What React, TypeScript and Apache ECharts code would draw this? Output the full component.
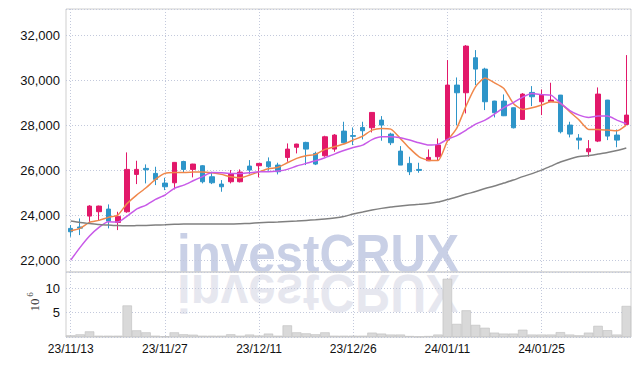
import React, { useEffect, useRef } from "react";
import * as echarts from "echarts";

const dates = [
  "23/11/13", "23/11/14", "23/11/15", "23/11/16", "23/11/17",
  "23/11/20", "23/11/21", "23/11/22", "23/11/23", "23/11/24",
  "23/11/27", "23/11/28", "23/11/29", "23/11/30", "23/12/01",
  "23/12/04", "23/12/05", "23/12/06", "23/12/07", "23/12/08",
  "23/12/11", "23/12/12", "23/12/13", "23/12/14", "23/12/15",
  "23/12/18", "23/12/19", "23/12/20", "23/12/21", "23/12/22",
  "23/12/26", "23/12/27", "23/12/28", "24/01/02", "24/01/03",
  "24/01/04", "24/01/05", "24/01/08", "24/01/09", "24/01/10",
  "24/01/11", "24/01/12", "24/01/15", "24/01/16", "24/01/17",
  "24/01/18", "24/01/19", "24/01/22", "24/01/23", "24/01/24",
  "24/01/25", "24/01/26", "24/01/29", "24/01/30", "24/01/31",
  "24/02/01", "24/02/02", "24/02/05", "24/02/06", "24/02/07",
];

const opens = [
  23408, 23470, 23955, 24150, 24267, 23675, 24147, 25808, 26075, 25852,
  25422, 25436, 26381, 26031, 26193, 25704, 25378, 25482, 25482, 26178,
  26193, 26370, 26222, 26563, 27015, 27230, 26741, 26637, 26933, 27733,
  27533, 27896, 27881, 28222, 27600, 26844, 26297, 26030, 26415, 26593,
  27333, 29778, 29437, 30993, 30489, 29067, 29067, 28770, 28252, 29452,
  29037, 29037, 29333, 28000, 27422, 26815, 27289, 29111, 27556, 28030,
];
const closes = [
  23258, 23420, 24400, 24400, 23733, 23942, 26031, 26031, 26015, 25586,
  25259, 26342, 26031, 26267, 25482, 25436, 25259, 25823, 25911, 26000,
  26297, 26148, 25926, 26933, 27156, 26933, 26267, 27481, 27556, 27215,
  27500, 27748, 28563, 28000, 27215, 26222, 25926, 25985, 26563, 27111,
  29778, 29437, 31511, 30489, 29037, 28548, 28415, 27881, 29378, 29259,
  29333, 29111, 27704, 27600, 27333, 26948, 29378, 27511, 27333, 28444,
];
const lows = [
  23036, 23110, 23700, 23780, 23408, 23333, 24103, 25378, 25408, 25333,
  25111, 25141, 25897, 25675, 25408, 25378, 25037, 25408, 25452, 25822,
  25675, 25970, 25808, 26370, 26741, 26222, 26222, 26593, 26815, 27185,
  27111, 27363, 27674, 27304, 27111, 26222, 25778, 25882, 26415, 26444,
  27259, 28000, 28519, 29778, 28667, 28341, 28400, 27852, 28252, 28844,
  28444, 29037, 27630, 27452, 26919, 26593, 27244, 27333, 27015, 28030,
];
const highs = [
  23556, 23850, 24440, 24420, 24475, 24147, 26786, 26415, 26253, 26148,
  25659, 26360, 26415, 26280, 26222, 25926, 25556, 26000, 26030, 26444,
  26310, 26563, 26326, 27185, 27170, 27259, 26815, 27526, 27600, 28148,
  27896, 28148, 28580, 28400, 27659, 27066, 26593, 26326, 26919, 27408,
  30889, 30118, 31556, 31333, 30548, 29080, 29363, 28780, 29422, 29733,
  29585, 29882, 29340, 28148, 27600, 27333, 29674, 29120, 27807, 31111,
];

const ma5 = [
  23302, 23409, 23676, 23764, 23898, 24000, 24520, 24889, 25213, 25587,
  25853, 25898, 25898, 25911, 25920, 25880, 25809, 25702, 25658, 25778,
  25924, 26058, 26120, 26324, 26520, 26636, 26698, 26920, 27036, 27156,
  27333, 27511, 27778, 27853, 27822, 27409, 26964, 26591, 26431, 26422,
  27289, 27867, 28867, 29711, 30089, 29880, 29631, 28964, 28698, 28769,
  28889, 29036, 28964, 28591, 28222, 27809, 27809, 27778, 27747, 28000,
];
const ma10 = [
  22000, 22564, 23067, 23453, 23702, 23689, 23956, 24267, 24444, 24698,
  24889, 25187, 25333, 25524, 25711, 25889, 25880, 25853, 25853, 25880,
  25924, 25924, 25956, 26031, 26178, 26298, 26413, 26547, 26711, 26867,
  27000, 27111, 27356, 27480, 27480, 27436, 27333, 27213, 27111, 27142,
  27364, 27533, 27778, 28044, 28222, 28489, 28778, 29000, 29244, 29400,
  29356, 29333, 28978, 28644, 28444, 28342, 28400, 28400, 28222, 28058,
];
const maLong = [
  23733, 23667, 23622, 23578, 23556, 23533, 23524, 23533, 23542, 23556,
  23569, 23587, 23600, 23600, 23600, 23600, 23600, 23600, 23613, 23631,
  23658, 23676, 23689, 23711, 23733, 23764, 23791, 23822, 23867, 23933,
  24044, 24133, 24222, 24298, 24356, 24400, 24444, 24476, 24511, 24578,
  24689, 24800, 24933, 25044, 25178, 25289, 25422, 25556, 25711, 25844,
  26000, 26178, 26356, 26489, 26600, 26644, 26711, 26778, 26867, 26978,
];
const volumes = [
  0.35, 0.55, 1.16, 0.27, 0.27, 0.27, 6.5, 1.37, 0.96, 0.27,
  0.14, 0.96, 0.55, 0.48, 0.27, 0.27, 0.27, 0.55, 0.27, 0.5,
  0.3, 0.7, 0.27, 2.4, 0.96, 0.75, 0.55, 0.96, 0.27, 0.27,
  0.27, 0.27, 0.9, 0.7, 0.5, 0.5, 0.2, 0.07, 0.2, 0.5,
  12.0, 2.7, 5.5, 2.5, 1.9, 0.9, 0.7, 0.7, 1.5, 0.5,
  0.5, 0.5, 1.0, 0.5, 0.35, 0.9, 2.3, 1.4, 0.5, 6.4,
];

const UP = "#e2186a";
const DOWN = "#2e95c9";
const GRID_LINE = "#c3c9dc";
const LABEL_FONT = "'Liberation Sans', Arial, sans-serif";

export default function App() {
  const ref = useRef<HTMLDivElement>(null);
  useEffect(() => {
    if (!ref.current) return;
    const chart = echarts.init(ref.current, undefined, { renderer: "svg" });
    const candles = opens.map((o, i) => [o, closes[i], lows[i], highs[i]]);
    const dotted = { color: GRID_LINE, width: 1, type: [1, 2] as any };
    chart.setOption({
      animation: false,
      backgroundColor: "#ffffff",
      grid: [
        { left: 66, right: 8, top: 9, height: 263, show: true, borderColor: "#cfcfcf", borderWidth: 1, backgroundColor: "transparent" },
        { left: 66, right: 8, top: 272, height: 65, show: true, borderColor: "#cfcfcf", borderWidth: 1, backgroundColor: "transparent" },
      ],
      xAxis: [
        {
          type: "category", gridIndex: 0, data: dates, boundaryGap: true,
          axisLine: { show: false }, axisTick: { show: false }, axisLabel: { show: false, interval: 9 },
          splitLine: { show: true, interval: 9, alignWithLabel: true, lineStyle: dotted },
        },
        {
          type: "category", gridIndex: 1, data: dates, boundaryGap: true,
          axisLine: { show: false }, axisTick: { show: false },
          axisLabel: { show: true, interval: 9, margin: 6, fontFamily: LABEL_FONT, fontSize: 12, color: "#111" },
          splitLine: { show: true, interval: 9, alignWithLabel: true, lineStyle: dotted },
        },
      ],
      yAxis: [
        {
          type: "value", gridIndex: 0, min: 21470, max: 33160, scale: true,
          axisLine: { show: false }, axisTick: { show: false },
          axisLabel: {
            margin: 6, fontFamily: LABEL_FONT, fontSize: 13, color: "#111",
            showMinLabel: false, showMaxLabel: false,
            formatter: (v: number) => (v % 2000 === 0 ? v.toLocaleString("en-US") : ""),
          },
          splitLine: { show: true, lineStyle: dotted },
        },
        {
          type: "value", gridIndex: 1, min: 0, max: 13.4, interval: 5,
          axisLine: { show: false }, axisTick: { show: false },
          axisLabel: {
            margin: 6, fontFamily: LABEL_FONT, fontSize: 13, color: "#111",
            showMinLabel: false, showMaxLabel: false,
            formatter: (v: number) => (v === 5 || v === 10 ? String(v) : ""),
          },
          splitLine: { show: true, lineStyle: dotted },
        },
      ],
      graphic: [
        {
          type: "text", x: 177, y: 272, z: -10, silent: true,
          scaleX: 0.93,
          style: { text: "investCRUX", x: 0, y: -18.4, verticalAlign: "middle", align: "left", fill: "#c9d0e6", font: "bold 53px 'Liberation Sans', Arial, sans-serif" },
        },
        {
          type: "text", x: 177, y: 274.5, z: -10, silent: true,
          scaleX: 0.93, scaleY: -1,
          style: { text: "investCRUX", x: 0, y: -18.4, verticalAlign: "middle", align: "left", fill: "#e6e7ef", font: "bold 53px 'Liberation Sans', Arial, sans-serif" },
        },
        {
          type: "group", x: 34.5, y: 305, rotation: Math.PI / 2,
          children: [
            { type: "text", x: 0, y: 0, style: { text: "10", align: "center", verticalAlign: "middle", fill: "#333", font: "13px 'Liberation Serif', serif" } },
            { type: "text", x: 10.5, y: -5, style: { text: "6", align: "center", verticalAlign: "middle", fill: "#333", font: "9px 'Liberation Serif', serif" } },
          ],
        },
      ],
      series: [
        {
          type: "candlestick", xAxisIndex: 0, yAxisIndex: 0, data: candles, barWidth: 5, z: 3,
          itemStyle: { color: UP, color0: DOWN, borderColor: UP, borderColor0: DOWN, borderWidth: 1 },
        },
        { type: "line", xAxisIndex: 0, yAxisIndex: 0, data: ma5, showSymbol: false, smooth: 0.2, z: 4, lineStyle: { color: "#f0874a", width: 1.5 } },
        { type: "line", xAxisIndex: 0, yAxisIndex: 0, data: ma10, showSymbol: false, smooth: 0.2, z: 4, lineStyle: { color: "#c85ae8", width: 1.5 } },
        { type: "line", xAxisIndex: 0, yAxisIndex: 0, data: maLong, showSymbol: false, smooth: 0.2, z: 4, lineStyle: { color: "#808080", width: 1.5 } },
        {
          type: "bar", xAxisIndex: 1, yAxisIndex: 1, data: volumes, barCategoryGap: "0%", z: 3,
          itemStyle: { color: "#d9d9d9", borderColor: "#bdbdbd", borderWidth: 0.6 },
        },
      ],
    });
    return () => chart.dispose();
  }, []);
  return <div ref={ref} style={{ position: "fixed", left: 0, top: 0, width: 639, height: 366, background: "#fff" }} />;
}
